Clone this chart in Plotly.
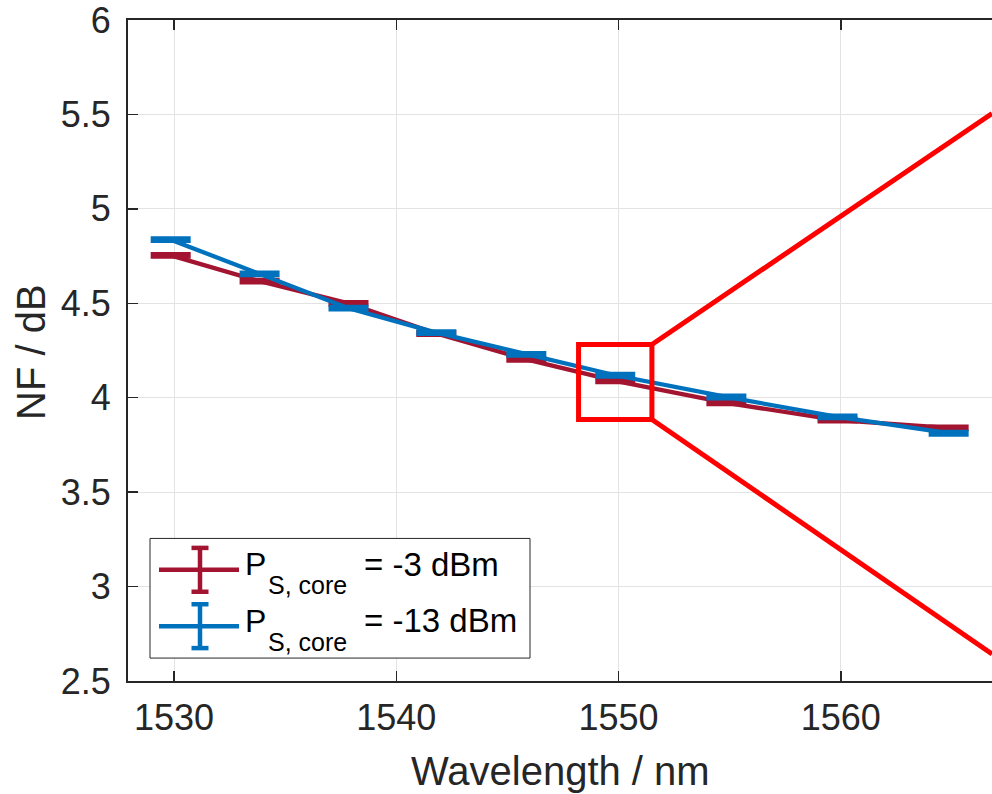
import plotly.graph_objects as go

# ---------------- data ----------------
wavelength_nm = [1529.85, 1533.85, 1537.85, 1541.8, 1545.85, 1549.85, 1554.85, 1559.85, 1564.85]
nf_m3dbm = [4.754, 4.617, 4.500, 4.340, 4.203, 4.089, 3.973, 3.881, 3.840]
nf_m13dbm = [4.837, 4.656, 4.474, 4.345, 4.230, 4.119, 4.004, 3.899, 3.812]
err_m3dbm = [0.008] * 9
err_m13dbm = [0.008] * 9
x_ticks = [1530, 1540, 1550, 1560]
y_ticks = [2.5, 3, 3.5, 4, 4.5, 5, 5.5, 6]
y_ticklabels = ["2.5", "3", "3.5", "4", "4.5", "5", "5.5", "6"]
series_names = ["P<sub>S, core</sub> = -3 dBm", "P<sub>S, core</sub> = -13 dBm"]
zoom_box_x = [1548.2, 1551.5]
zoom_box_y = [3.885, 4.282]
zoom_ray_end_x = 1566.8
zoom_ray_end_y = [5.505, 2.643]

RED = "#A2142F"
BLUE = "#0072BD"
TXT = "#262626"
FONT = "Liberation Sans, Arial, sans-serif"

W, H = 992, 794
ML, MR, MT, MB = 128, 0, 18, 113
PW, PH = W - ML - MR, H - MT - MB


def px(xp):
    return (xp - ML) / PW


def py(yp):
    return (H - MB - yp) / PH


fig = go.Figure()
for ys, es, col, name in [(nf_m3dbm, err_m3dbm, RED, series_names[0]),
                          (nf_m13dbm, err_m13dbm, BLUE, series_names[1])]:
    fig.add_trace(go.Scatter(
        x=wavelength_nm, y=ys, mode="lines", name=name,
        line=dict(color=col, width=4.3),
        error_y=dict(type="data", array=es, visible=True, color=col,
                     thickness=3.8, width=20),
        showlegend=False, hoverinfo="skip",
    ))

shapes = []
# zoom rectangle and rays
shapes.append(dict(type="rect", xref="x", yref="y",
                   x0=zoom_box_x[0], x1=zoom_box_x[1], y0=zoom_box_y[0], y1=zoom_box_y[1],
                   line=dict(color="#FF0000", width=5), layer="above"))
shapes.append(dict(type="line", xref="x", yref="y",
                   x0=zoom_box_x[1], y0=zoom_box_y[1], x1=zoom_ray_end_x, y1=zoom_ray_end_y[0],
                   line=dict(color="#FF0000", width=5), layer="above"))
shapes.append(dict(type="line", xref="x", yref="y",
                   x0=zoom_box_x[1], y0=zoom_box_y[0], x1=zoom_ray_end_x, y1=zoom_ray_end_y[1],
                   line=dict(color="#FF0000", width=5), layer="above"))

# custom legend
shapes.append(dict(type="rect", xref="paper", yref="paper",
                   x0=px(150), x1=px(530), y0=py(658), y1=py(538),
                   fillcolor="white", line=dict(color=TXT, width=1), layer="above"))
annotations = []
for col, yc, label_tail in [(RED, 569.5, "= -3 dBm"), (BLUE, 626, "= -13 dBm")]:
    shapes.append(dict(type="line", xref="paper", yref="paper",
                       x0=px(159), x1=px(239), y0=py(yc), y1=py(yc),
                       line=dict(color=col, width=4.5), layer="above"))
    shapes.append(dict(type="line", xref="paper", yref="paper",
                       x0=px(200), x1=px(200), y0=py(yc - 22), y1=py(yc + 22),
                       line=dict(color=col, width=4.5), layer="above"))
    for dy in (-22, 22):
        shapes.append(dict(type="line", xref="paper", yref="paper",
                           x0=px(191.5), x1=px(208.5), y0=py(yc + dy), y1=py(yc + dy),
                           line=dict(color=col, width=4.5), layer="above"))
    base = yc + 5.5
    annotations.append(dict(text="P", xref="paper", yref="paper", x=px(243), y=py(base - 11),
                            xanchor="left", yanchor="middle", showarrow=False,
                            font=dict(family=FONT, size=32, color="black")))
    annotations.append(dict(text="S, core", xref="paper", yref="paper", x=px(266), y=py(base + 10),
                            xanchor="left", yanchor="middle", showarrow=False,
                            font=dict(family=FONT, size=25, color="black")))
    annotations.append(dict(text=label_tail, xref="paper", yref="paper", x=px(362), y=py(base - 11),
                            xanchor="left", yanchor="middle", showarrow=False,
                            font=dict(family=FONT, size=33, color="black")))

# axis titles
annotations.append(dict(text="Wavelength / nm", xref="paper", yref="paper",
                        x=px(560), y=py(771), xanchor="center", yanchor="middle",
                        showarrow=False, font=dict(family=FONT, size=40, color=TXT)))
annotations.append(dict(text="NF / dB", xref="paper", yref="paper",
                        x=px(31), y=py(351), xanchor="center", yanchor="middle",
                        textangle=-90, showarrow=False,
                        font=dict(family=FONT, size=40, color=TXT)))

fig.update_layout(
    width=W, height=H,
    margin=dict(l=ML, r=MR, t=MT, b=MB, pad=0),
    paper_bgcolor="white", plot_bgcolor="white",
    font=dict(family=FONT, color=TXT),
    shapes=shapes, annotations=annotations,
    showlegend=False, hovermode=False,
)
fig.update_xaxes(
    range=[1527.93, 1566.80], tickvals=x_ticks, ticktext=[str(t) for t in x_ticks],
    ticks="inside", ticklen=10, tickwidth=1.5, tickcolor=TXT,
    showline=True, linewidth=2, linecolor=TXT, mirror="ticks",
    showgrid=True, gridcolor="#e3e3e3", gridwidth=1, zeroline=False,
    tickfont=dict(family=FONT, size=36, color=TXT), ticklabelstandoff=4,
    ticklabeloverflow="allow",
)
fig.update_yaxes(
    range=[2.5, 6.0001], tickvals=y_ticks, ticktext=y_ticklabels,
    ticks="inside", ticklen=10, tickwidth=1.5, tickcolor=TXT,
    showline=True, linewidth=2, linecolor=TXT,
    showgrid=True, gridcolor="#e3e3e3", gridwidth=1, zeroline=False,
    tickfont=dict(family=FONT, size=36, color=TXT), ticklabelstandoff=8,
    ticklabeloverflow="allow",
)

fig.write_html(
    "out.html",
    config={"displayModeBar": False, "staticPlot": True},
    post_script="document.body.style.margin='0';document.body.style.overflow='hidden';",
)
